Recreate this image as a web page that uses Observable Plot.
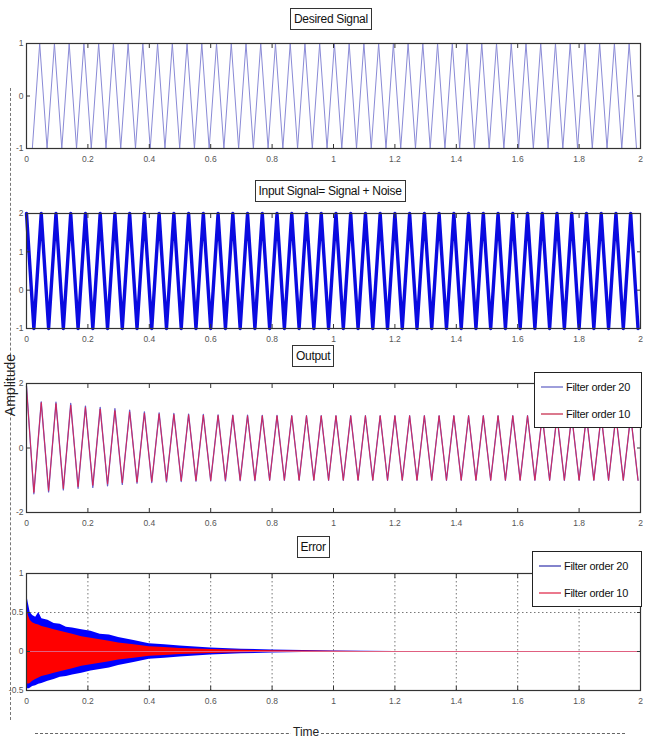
<!DOCTYPE html>
<html><head><meta charset="utf-8">
<script src="https://cdn.jsdelivr.net/npm/d3@7"></script>
<script src="https://cdn.jsdelivr.net/npm/@observablehq/plot@0.6"></script>
<style>
body{margin:0;background:#fff;}
#wrap{position:relative;width:646px;height:742px;overflow:hidden;font-family:"Liberation Sans",Arial,sans-serif;}
.ttl{position:absolute;border:1px solid #333;background:#fff;font-size:12px;padding:2px 3px;line-height:16px;color:#111;white-space:nowrap;letter-spacing:-0.3px;}
.leg{position:absolute;border:1px solid #222;background:#fff;font-size:11px;color:#111;letter-spacing:-0.3px;}
.leg div{display:flex;align-items:center;height:27px;padding-left:6px;white-space:nowrap;}
.leg svg{margin-right:3px;}
#amp{position:absolute;transform:rotate(-90deg);font-size:14px;color:#222;white-space:nowrap;}
#time{position:absolute;left:291px;top:725px;font-size:12px;color:#222;background:#fff;padding:0 2px;}
#vline{position:absolute;left:10px;top:88px;height:632px;border-left:1.5px dashed #777;}
#hline{position:absolute;left:35px;top:733px;width:590px;border-top:1.5px dashed #666;}
</style></head>
<body><div id="wrap">
<div id="vline"></div><div id="hline"></div>
</div>
<script>
// ---- values ----
const xTicks = [0, 0.2, 0.4, 0.6, 0.8, 1, 1.2, 1.4, 1.6, 1.8, 2];
const xTickLabels = ["0","0.2","0.4","0.6","0.8","1","1.2","1.4","1.6","1.8","2"];
const period = 0.048;               // one cycle of the tone, read from the peak spacing
const desiredPeak = [1];
const desiredTrough = [-1];
const inputPeak = [2];
const inputTrough = [-1];
const out20Peak   = [1.92,1.43,1.42,1.38,1.3,1.26,1.22,1.17,1.12,1.09,1.07,1.05,1.04,1.03,1.02,1.02,1.01,1.01,1.0,1.0,1.0,1.0,1.0,1.0,1.0,1.0,1.0,1.0,1.0,1.0,1.0,1.0,1.0,1.0,1.0,1.0,1.0,1.0,1.0,1.0,1.0,1.0];
const out20Trough = [-1.42,-1.36,-1.3,-1.25,-1.22,-1.17,-1.13,-1.09,-1.07,-1.05,-1.04,-1.03,-1.02,-1.02,-1.01,-1.01,-1.0,-1.0,-1.0,-1.0,-1.0,-1.0,-1.0,-1.0,-1.0,-1.0,-1.0,-1.0,-1.0,-1.0,-1.0,-1.0,-1.0,-1.0,-1.0,-1.0,-1.0,-1.0,-1.0,-1.0,-1.0,-1.0];
const out10Peak   = [1.88,1.41,1.38,1.33,1.26,1.21,1.16,1.12,1.08,1.06,1.04,1.03,1.02,1.01,1.01,1.0,1.0,1.0,1.0,1.0,1.0,1.0,1.0,1.0,1.0,1.0,1.0,1.0,1.0,1.0,1.0,1.0,1.0,1.0,1.0,1.0,1.0,1.0,1.0,1.0,1.0,1.0];
const out10Trough = [-1.38,-1.32,-1.26,-1.2,-1.16,-1.12,-1.08,-1.06,-1.04,-1.03,-1.02,-1.01,-1.01,-1.0,-1.0,-1.0,-1.0,-1.0,-1.0,-1.0,-1.0,-1.0,-1.0,-1.0,-1.0,-1.0,-1.0,-1.0,-1.0,-1.0,-1.0,-1.0,-1.0,-1.0,-1.0,-1.0,-1.0,-1.0,-1.0,-1.0,-1.0,-1.0];
const errTime   = [0,0.006,0.012,0.02,0.03,0.04,0.05,0.07,0.09,0.11,0.13,0.15,0.18,0.21,0.24,0.27,0.3,0.35,0.4,0.45,0.5,0.6,0.7,0.8,0.9,1.0,1.1,1.2,2];
const err20Top  = [0.74,0.62,0.5,0.46,0.44,0.5,0.42,0.4,0.36,0.35,0.31,0.3,0.28,0.26,0.22,0.21,0.18,0.14,0.1,0.085,0.07,0.045,0.03,0.02,0.012,0.007,0.004,0.0,0.0];
const err20Bot  = [-0.46,-0.48,-0.47,-0.45,-0.44,-0.42,-0.41,-0.38,-0.36,-0.33,-0.32,-0.3,-0.28,-0.25,-0.23,-0.21,-0.18,-0.14,-0.1,-0.085,-0.07,-0.045,-0.03,-0.02,-0.012,-0.007,-0.004,0.0,0.0];
const err10Top  = [0.56,0.46,0.4,0.37,0.35,0.34,0.32,0.3,0.28,0.26,0.24,0.22,0.19,0.17,0.15,0.13,0.11,0.085,0.06,0.05,0.04,0.026,0.016,0.009,0.005,0.003,0.001,0.0,0.0];
const err10Bot  = [-0.4,-0.42,-0.41,-0.38,-0.36,-0.34,-0.32,-0.3,-0.28,-0.26,-0.24,-0.22,-0.19,-0.17,-0.15,-0.13,-0.11,-0.085,-0.06,-0.05,-0.04,-0.026,-0.016,-0.009,-0.005,-0.003,-0.001,0.0,0.0];
const legendLabels = ["Filter order 20", "Filter order 10"];

// build zigzag tone from per-cycle extrema
function tone(peaks, troughs, start) {
  const pts = [];
  const n = Math.ceil(2 / period) + 1;
  for (let k = 0; k < n; k++) {
    const tp = start + k * period, tt = tp + period / 2;
    const p = peaks[Math.min(k, peaks.length - 1)], q = troughs[Math.min(k, troughs.length - 1)];
    if (tp >= 0 && tp <= 2) pts.push({t: tp, v: p});
    if (tt >= 0 && tt <= 2) pts.push({t: tt, v: q});
  }
  return pts;
}
const errRows = errTime.map((t, i) => ({t, a: err20Top[i], b: err20Bot[i], c: err10Top[i], d: err10Bot[i]}));

const font = '"Liberation Sans",Arial,sans-serif';
const wrap = document.getElementById("wrap");
const blank = () => "";

function panel(top, height, mt, mb, yDomain, yTicks, yLabels, marks, grid) {
  const p = Plot.plot({
    width: 646, height, marginLeft: 26, marginRight: 6, marginTop: mt, marginBottom: mb,
    style: {fontFamily: font, fontSize: "8.5px", color: "#555", background: "transparent", overflow: "visible"},
    x: {domain: [0, 2]},
    y: {domain: yDomain},
    marks: [
      ...(grid ? [
        Plot.ruleX(xTicks.slice(1, -1), {stroke: "#555", strokeDasharray: "1.5,2.5", strokeWidth: 0.8}),
        Plot.ruleY(yTicks.slice(1, -1), {stroke: "#555", strokeDasharray: "1.5,2.5", strokeWidth: 0.8})
      ] : []),
      ...marks,
      Plot.axisX({ticks: xTicks, tickFormat: (d, i) => xTickLabels[i], tickSize: -4, tickPadding: 11, label: null, stroke: "#333"}),
      Plot.axisX({anchor: "top", ticks: xTicks, tickSize: -4, tickFormat: blank, label: null, stroke: "#333"}),
      Plot.axisY({ticks: yTicks, tickFormat: (d) => yLabels[yTicks.indexOf(d)], tickSize: -4, tickPadding: 7, label: null, stroke: "#333"}),
      Plot.axisY({anchor: "right", ticks: yTicks, tickSize: -4, tickFormat: blank, label: null, stroke: "#333"}),
      Plot.frame({stroke: "#333", strokeWidth: 1.2})
    ]
  });
  p.style.position = "absolute";
  p.style.left = "0px";
  p.style.top = top + "px";
  wrap.appendChild(p);
}

panel(0, 170, 43, 22, [-1, 1], [-1, 0, 1], ["-1", "0", "1"], [
  Plot.line(tone(desiredPeak, desiredTrough, -0.005), {x: "t", y: "v", stroke: "#8a8ad6", strokeWidth: 1})
]);
panel(170, 175, 43, 17, [-1, 2], [-1, 0, 1, 2], ["-1", "0", "1", "2"], [
  Plot.line(tone(inputPeak, inputTrough, 0.0), {x: "t", y: "v", stroke: "#0a0ae0", strokeWidth: 3.4})
]);
panel(345, 190, 38, 23, [-2, 2], [-2, 0, 2], ["-2", "0", "2"], [
  Plot.line(tone(out20Peak, out20Trough, 0.0), {x: "t", y: "v", stroke: "#6a5ac8", strokeWidth: 1.3}),
  Plot.line(tone(out10Peak, out10Trough, 0.0), {x: "t", y: "v", stroke: "#e0204a", strokeWidth: 1, strokeOpacity: 0.85})
]);
panel(535, 175, 38, 20, [-0.5, 1], [-0.5, 0, 0.5, 1], ["-0.5", "0", "0.5", "1"], [
  Plot.areaY(errRows, {x: "t", y1: "b", y2: "a", fill: "#0000ff"}),
  Plot.areaY(errRows, {x: "t", y1: "d", y2: "c", fill: "#ff0000"}),
  Plot.ruleY([0], {stroke: "#e06080", strokeWidth: 1})
], true);

// HTML text: titles, legends, axis labels
function addTitle(text, cx, top) {
  const d = document.createElement("div");
  d.className = "ttl"; d.textContent = text;
  wrap.appendChild(d);
  d.style.top = top + "px";
  d.style.left = (cx - d.offsetWidth / 2) + "px";
}
addTitle("Desired Signal", 331, 8);
addTitle("Input Signal= Signal + Noise", 330, 180);
addTitle("Output", 313, 345);
addTitle("Error", 313, 536);

function addLegend(left, top, width, colors) {
  const d = document.createElement("div");
  d.className = "leg";
  d.style.left = left + "px"; d.style.top = top + "px"; d.style.width = width + "px";
  d.innerHTML = legendLabels.map((lab, i) =>
    `<div><svg width="22" height="4"><line x1="0" x2="22" y1="2" y2="2" stroke="${colors[i]}" stroke-width="1.3"/></svg>${lab}</div>`).join("");
  wrap.appendChild(d);
}
addLegend(534, 372, 106, ["#6a6ac8", "#c83050"]);
addLegend(532, 551, 108, ["#4040b0", "#e03050"]);

const amp = document.createElement("div"); amp.id = "amp"; amp.textContent = "Amplitude"; wrap.appendChild(amp);
amp.style.left = (10 - amp.offsetWidth / 2) + "px";
amp.style.top = (385 - amp.offsetHeight / 2) + "px";
const tm = document.createElement("div"); tm.id = "time"; tm.textContent = "Time"; wrap.appendChild(tm);
</script>
</body></html>
